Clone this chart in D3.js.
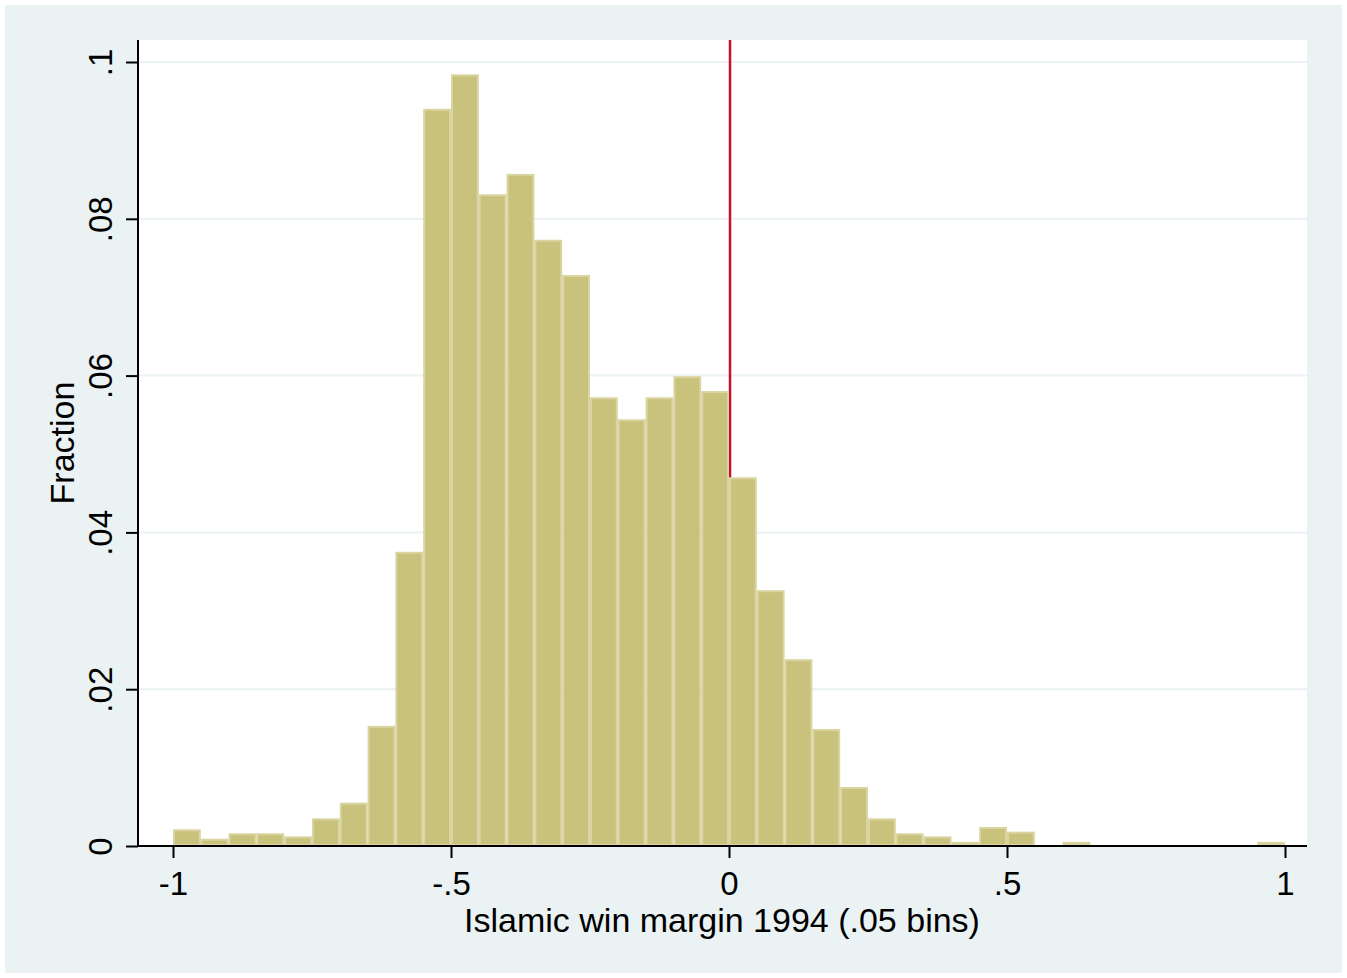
<!DOCTYPE html>
<html>
<head>
<meta charset="utf-8">
<script src="https://cdn.jsdelivr.net/npm/d3@7"></script>
<style>
  body { margin: 0; background: #ffffff; }
  text { font-family: "Liberation Sans", Arial, sans-serif; fill: #000; }
</style>
</head>
<body>
<script>
(function(){

    /////////// DATA //////////
    const binStarts = [-1.00,-0.95,-0.90,-0.85,-0.80,-0.75,-0.70,-0.65,-0.60,-0.55,
                       -0.50,-0.45,-0.40,-0.35,-0.30,-0.25,-0.20,-0.15,-0.10,-0.05,
                        0.00, 0.05, 0.10, 0.15, 0.20, 0.25, 0.30, 0.35, 0.40, 0.45,
                        0.50, 0.55, 0.60, 0.65, 0.70, 0.75, 0.80, 0.85, 0.90, 0.95];
    const fractions = [0.0020,0.0008,0.0015,0.0015,0.0011,0.0034,0.0054,0.0152,0.0374,0.0939,
                       0.0983,0.0830,0.0856,0.0772,0.0727,0.0571,0.0543,0.0571,0.0598,0.0579,
                       0.0469,0.0325,0.0237,0.0148,0.0074,0.0034,0.0015,0.0011,0.0004,0.0023,
                       0.0017,0.0000,0.0004,0.0000,0.0000,0.0000,0.0000,0.0000,0.0000,0.0004];
    const binWidth = 0.05;
    const xTicks = [-1, -0.5, 0, 0.5, 1];
    const xTickLabels = ["-1", "-.5", "0", ".5", "1"];
    const yTicks = [0, 0.02, 0.04, 0.06, 0.08, 0.1];
    const yTickLabels = ["0", ".02", ".04", ".06", ".08", ".1"];
    const refLine = 0;

    /////////// LAYOUT //////////
    const width = 1347, height = 978;
    const plot = {left: 138, right: 1307, top: 40, bottom: 846};
    const tickFont = 33, titleFont = 34;

    const svg = d3.select("body").append("svg")
        .attr("width", width)
        .attr("height", height);

    // outer graph region
    svg.append("rect")
        .attr("x", 5).attr("y", 5)
        .attr("width", width - 10).attr("height", height - 10)
        .attr("fill", "#EAF2F3");

    // plot region
    svg.append("rect")
        .attr("x", plot.left).attr("y", plot.top)
        .attr("width", plot.right - plot.left).attr("height", plot.bottom - plot.top)
        .attr("fill", "#ffffff");

    const x = d3.scaleLinear().domain([-1, 1]).range([173, 1285]);
    const y = d3.scaleLinear().domain([0, 0.1]).range([plot.bottom, 62]);

    // gridlines
    svg.append("g").selectAll("line")
        .data(yTicks.filter(d => d > 0))
        .enter().append("line")
        .attr("x1", plot.left).attr("x2", plot.right)
        .attr("y1", d => y(d)).attr("y2", d => y(d))
        .attr("stroke", "#EAF2F3")
        .attr("stroke-width", 2);

    // reference line (drawn behind the bars)
    svg.append("line")
        .attr("x1", x(refLine) + 1).attr("x2", x(refLine) + 1)
        .attr("y1", plot.top).attr("y2", plot.bottom)
        .attr("stroke", "#C8102E")
        .attr("stroke-width", 2.5);

    // bars
    svg.append("g").selectAll("rect")
        .data(binStarts.map((b, i) => ({start: b, value: fractions[i]})).filter(d => d.value > 0))
        .enter().append("rect")
        .attr("x", d => x(d.start) + 1)
        .attr("width", d => x(d.start + binWidth) - x(d.start) - 2)
        .attr("y", d => y(d.value))
        .attr("height", d => Math.max(0, plot.bottom - y(d.value) - 1))
        .attr("fill", "#C9C27C")
        .attr("stroke", "#D9D4A0")
        .attr("stroke-width", 2);

    // axes
    const xAxis = d3.axisBottom(x)
        .tickValues(xTicks)
        .tickFormat((d, i) => xTickLabels[i])
        .tickSize(12)
        .tickSizeOuter(0);
    const gx = svg.append("g")
        .attr("transform", `translate(0,${plot.bottom})`)
        .call(xAxis);
    gx.select(".domain").attr("d", `M${plot.left},0H${plot.right}`).attr("stroke", "#000").attr("stroke-width", 2);
    gx.selectAll(".tick line").attr("stroke", "#000").attr("stroke-width", 2);
    gx.selectAll(".tick text")
        .attr("font-family", "Liberation Sans, Arial, sans-serif")
        .attr("font-size", tickFont)
        .attr("fill", "#000")
        .attr("y", 49)
        .attr("dy", 0);

    const yAxis = d3.axisLeft(y)
        .tickValues(yTicks)
        .tickFormat((d, i) => yTickLabels[i])
        .tickSize(12)
        .tickSizeOuter(0);
    const gy = svg.append("g")
        .attr("transform", `translate(${plot.left},0)`)
        .call(yAxis);
    gy.select(".domain").attr("d", `M0,${plot.top}V${plot.bottom}`).attr("stroke", "#000").attr("stroke-width", 2);
    gy.selectAll(".tick line").attr("stroke", "#000").attr("stroke-width", 2);
    gy.selectAll(".tick text")
        .attr("font-family", "Liberation Sans, Arial, sans-serif")
        .attr("font-size", tickFont)
        .attr("fill", "#000")
        .attr("text-anchor", "middle")
        .attr("dy", 0)
        .attr("x", 0)
        .attr("transform", "translate(-26,0) rotate(-90)");

    // axis titles
    svg.append("text")
        .attr("x", 722).attr("y", 932)
        .attr("text-anchor", "middle")
        .attr("font-size", titleFont)
        .text("Islamic win margin 1994 (.05 bins)");

    svg.append("text")
        .attr("transform", `translate(74,${(plot.top + plot.bottom) / 2}) rotate(-90)`)
        .attr("text-anchor", "middle")
        .attr("font-size", titleFont)
        .text("Fraction");

})();
</script>
</body>
</html>
